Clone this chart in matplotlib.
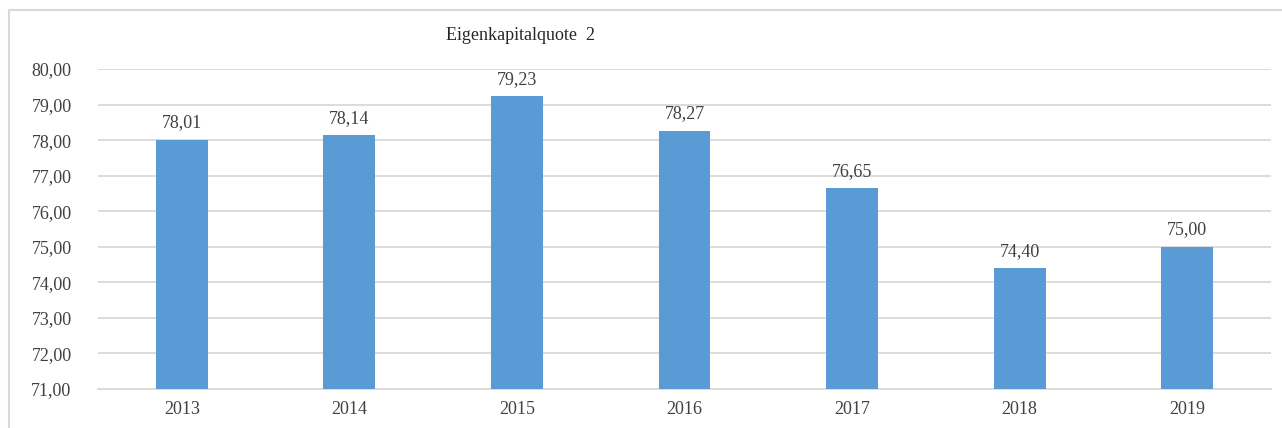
import matplotlib.pyplot as plt
from matplotlib.patches import Rectangle

# Eigenkapitalquote per year
years = ["2013", "2014", "2015", "2016", "2017", "2018", "2019"]
quote = [78.01, 78.14, 79.23, 78.27, 76.65, 74.40, 75.00]
y_ticks = [71, 72, 73, 74, 75, 76, 77, 78, 79, 80]


def de_fmt(v):
    return f"{v:.2f}".replace(".", ",")


plt.rcParams["font.family"] = ["Liberation Serif", "DejaVu Serif"]
text_col = "#404040"
grid_col = "#d9d9d9"
fs = 13

fig = plt.figure(figsize=(12.82, 4.28), dpi=100)
ax = fig.add_axes([98 / 1282, 1 - 389 / 428, (1271 - 98) / 1282, (389 - 69) / 428])

x = range(len(years))
ax.bar(x, quote, width=0.31, color="#5B9BD5", zorder=3)

for i, v in zip(x, quote):
    ax.annotate(de_fmt(v), (i, v), xytext=(0, 6), textcoords="offset points",
                ha="center", va="bottom", fontsize=fs, color=text_col)

ax.set_xlim(-0.5, len(years) - 0.5)
ax.set_ylim(71, 80)
ax.set_yticks(y_ticks)
ax.set_yticklabels([de_fmt(t) for t in y_ticks], fontsize=fs, color=text_col)
ax.set_xticks(list(x))
ax.set_xticklabels(years, fontsize=fs, color=text_col)
ax.tick_params(length=0)
ax.tick_params(axis="y", pad=19)
ax.tick_params(axis="x", pad=9)

ax.grid(axis="y", color=grid_col, linewidth=1.3, zorder=0)
for s in ["top", "right", "left"]:
    ax.spines[s].set_visible(False)
ax.spines["bottom"].set_color(grid_col)
ax.spines["bottom"].set_linewidth(1.3)

fig.text(521 / 1282, 1 - 35 / 428, "Eigenkapitalquote  2", ha="center", va="center",
         fontsize=fs, color="#262626")

# chart frame
fig.patches.append(Rectangle((9 / 1282, -0.1), 1.0, 1.1 - 10 / 428,
                             transform=fig.transFigure, fill=False,
                             edgecolor=grid_col, linewidth=1.5))

fig.savefig("out.png", dpi=100)
